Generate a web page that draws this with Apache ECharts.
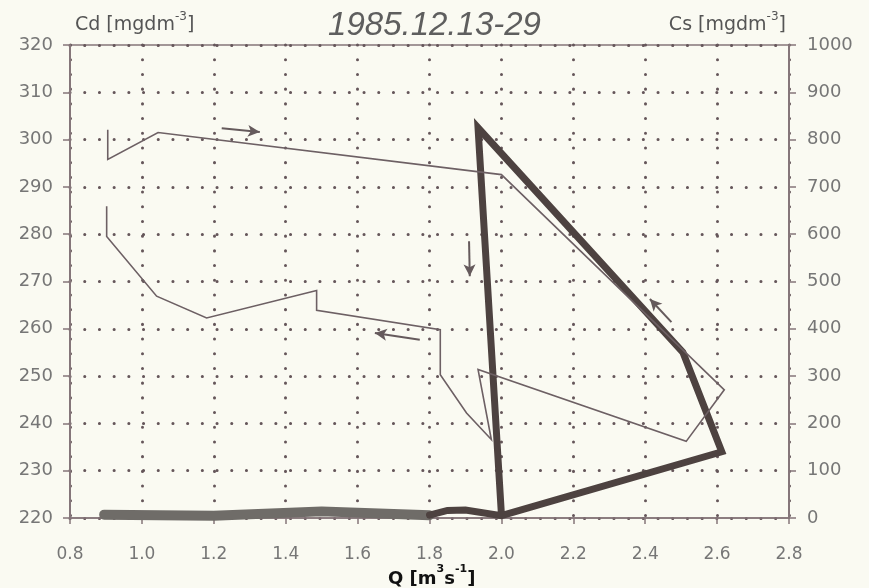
<!DOCTYPE html>
<html>
<head>
<meta charset="utf-8">
<script src="https://cdn.jsdelivr.net/npm/echarts@6/dist/echarts.min.js"></script>
<style>
html,body{margin:0;padding:0;background:#fafaf2;}
#c{width:869px;height:588px;}
</style>
</head>
<body>
<div id="c"></div>
<script>
// Q [m3/s] vs Cd (left axis) — thin line, in time order
const cdQ = [0.905, 0.905, 1.045, 2.0, 2.62, 2.514, 1.935, 1.972, 1.903, 1.83, 1.83, 1.486, 1.486, 1.18, 1.041, 0.902, 0.902];
const cdVal = [302.1, 295.8, 301.5, 292.6, 247.1, 236.2, 251.4, 236.6, 242.2, 250.3, 259.8, 263.9, 268.1, 262.3, 266.9, 279.5, 285.9];
// Q vs Cs (right axis) — thick line: low-flow baseline, then the loop
const csBaseQ = [0.895, 1.2, 1.5, 1.8];
const csBaseVal = [7, 5, 14, 6];
const csLoopQ = [1.8, 1.85, 1.9, 2.0, 2.613, 2.505, 1.935, 2.0];
const csLoopVal = [6, 16, 17, 5, 140, 350, 825, 8];
// direction arrows (Q, Cd) from -> to
const arrowFromQ = [1.222, 1.910, 1.773, 2.473];
const arrowFromCd = [302.4, 278.5, 257.7, 261.4];
const arrowToQ = [1.328, 1.912, 1.648, 2.413];
const arrowToCd = [301.6, 271.1, 259.1, 266.3];
// axes
const xMin = 0.8, xMax = 2.8, xStep = 0.2;
const cdMin = 220, cdMax = 320, cdStep = 10;
const csMin = 0, csMax = 1000, csStep = 100;
const titleText = '1985.12.13-29';
const xName = 'Q';

const zip = (a, b) => a.map((v, i) => [v, b[i]]);
const axisCol = '#85767a';
const labCol = '#767676';
const font = 'DejaVu Sans';
const gridLine = {color: '#65565a', width: 3, type: [0.1, 14.6], cap: 'round'};

const chart = echarts.init(document.getElementById('c'), null, {renderer: 'canvas'});
const unitRich = (size, col, weight) => ({
  a: {fontFamily: font, fontSize: size, color: col, fontWeight: weight, lineHeight: 24, verticalAlign: 'bottom'},
  s: {fontFamily: font, fontSize: Math.round(size * 0.62), color: col, fontWeight: weight, lineHeight: 24, verticalAlign: 'top'}
});
chart.setOption({
  backgroundColor: '#fafaf2',
  animation: false,
  textStyle: {fontFamily: font},
  title: [
    {text: titleText, left: 'center', top: 4,
     textStyle: {fontFamily: 'Liberation Sans', fontStyle: 'italic', fontWeight: 'normal', fontSize: 33, color: '#5e5e5e'}},
    {text: '{a|Cd [mgdm}{s|-3}{a|]}', left: 70, top: 6,
     textStyle: {fontWeight: 'normal', rich: unitRich(19, '#555', 'normal')}},
    {text: '{a|Cs [mgdm}{s|-3}{a|]}', right: 78, top: 6,
     textStyle: {fontWeight: 'normal', rich: unitRich(19, '#555', 'normal')}},
    {text: '{a|' + xName + ' [m}{s|3}{a|s}{s|-1}{a|]}', left: 383, top: 559,
     textStyle: {fontWeight: 'bold', rich: unitRich(18, '#111', 'bold')}}
  ],
  grid: {left: 70, right: 80, top: 45, bottom: 70, show: true, borderColor: axisCol, borderWidth: 1.5, backgroundColor: 'transparent'},
  xAxis: {
    type: 'value', min: xMin, max: xMax, interval: xStep,
    axisLine: {show: true, lineStyle: {color: axisCol, width: 1.5}},
    axisTick: {show: true, length: 6, lineStyle: {color: axisCol, width: 1.5}},
    axisLabel: {color: labCol, fontSize: 17, margin: 28, fontFamily: font, formatter: v => v.toFixed(1)},
    splitLine: {show: true, lineStyle: gridLine}
  },
  yAxis: [
    {type: 'value', min: cdMin, max: cdMax, interval: cdStep, position: 'left',
     axisLine: {show: true, lineStyle: {color: axisCol, width: 2}},
     axisTick: {show: true, length: 7, lineStyle: {color: axisCol, width: 1.5}},
     axisLabel: {color: labCol, fontSize: 18, margin: 17, fontFamily: font, formatter: v => String(v)},
     splitLine: {show: true, lineStyle: gridLine}},
    {type: 'value', min: csMin, max: csMax, interval: csStep, position: 'right',
     axisLine: {show: true, lineStyle: {color: axisCol, width: 2}},
     axisTick: {show: true, length: 7, lineStyle: {color: axisCol, width: 1.5}},
     axisLabel: {color: labCol, fontSize: 18, margin: 18, fontFamily: font, formatter: v => String(v)},
     splitLine: {show: false}}
  ],
  series: [
    {type: 'line', yAxisIndex: 1, data: zip(csBaseQ, csBaseVal), showSymbol: false,
     lineStyle: {color: '#6f6c68', width: 10, cap: 'round', join: 'round'}, z: 3},
    {type: 'line', yAxisIndex: 1, data: zip(csLoopQ, csLoopVal), showSymbol: false,
     lineStyle: {color: '#4d4240', width: 7, cap: 'round', join: 'miter'}, z: 4},
    {type: 'line', yAxisIndex: 0, data: zip(cdQ, cdVal), showSymbol: false,
     lineStyle: {color: '#6d6064', width: 1.6, join: 'miter'}, z: 5,
     markLine: {silent: true, symbol: ['none', 'arrow'], symbolSize: [9, 12], label: {show: false},
       lineStyle: {color: '#655a5c', width: 2, type: 'solid'},
       data: arrowFromQ.map((q, i) => [{coord: [q, arrowFromCd[i]]}, {coord: [arrowToQ[i], arrowToCd[i]]}])}}
  ]
});
</script>
</body>
</html>
